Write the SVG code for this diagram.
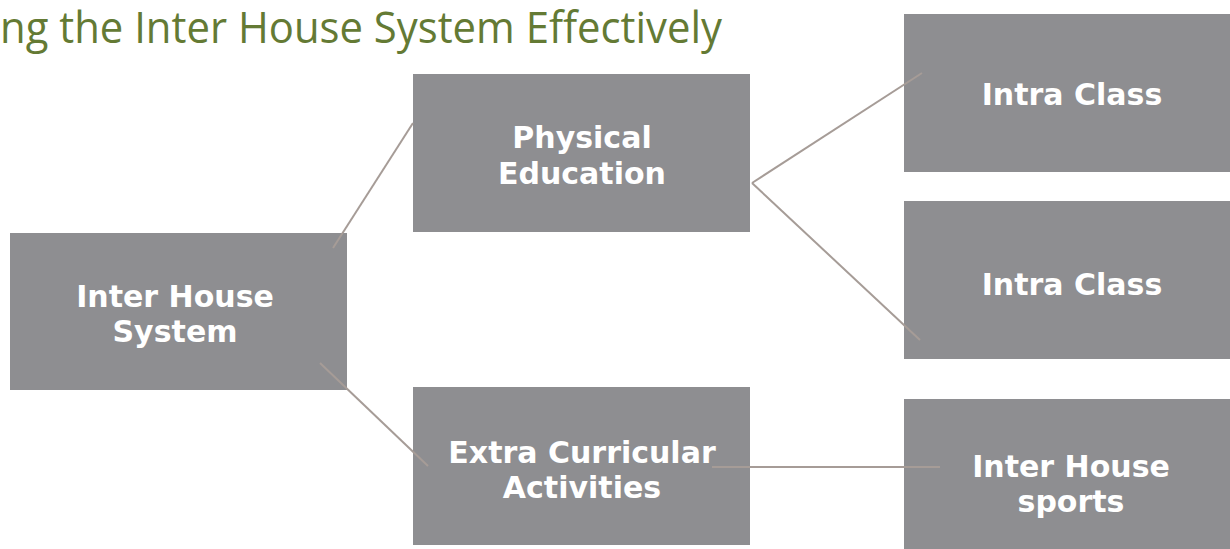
<svg xmlns="http://www.w3.org/2000/svg" width="1230" height="549" viewBox="0 0 1230 549">
<style>
.box{fill:#8e8e91}
.lbl{font-family:"DejaVu Sans",sans-serif;font-weight:bold;font-size:30px;fill:#ffffff;text-anchor:middle}
.con{stroke:#a69c97;stroke-width:2;fill:none}
.title{font-family:"Open Sans","Noto Sans",sans-serif;font-size:43px;font-weight:500;fill:#647a34}
</style>
<rect width="1230" height="549" fill="#ffffff"/>
<text class="title" x="0" y="43" textLength="722" lengthAdjust="spacingAndGlyphs">ng the Inter House System Effectively</text>
<g id="n-ihs"><rect class="box" x="10" y="233" width="337" height="157"/><text class="lbl" x="175" y="307">Inter House</text><text class="lbl" x="175" y="342">System</text></g>
<g id="n-pe"><rect class="box" x="413" y="74" width="337" height="158"/><text class="lbl" x="582" y="148">Physical</text><text class="lbl" x="582" y="184">Education</text></g>
<g id="n-ic1"><rect class="box" x="904" y="14" width="326" height="158"/><text class="lbl" x="1072" y="105">Intra Class</text></g>
<g id="n-ic2"><rect class="box" x="904" y="201" width="326" height="158"/><text class="lbl" x="1072" y="295">Intra Class</text></g>
<g id="n-eca"><rect class="box" x="413" y="387" width="337" height="158"/><text class="lbl" x="582" y="463">Extra Curricular</text><text class="lbl" x="582" y="498">Activities</text></g>
<g id="n-ihsp"><rect class="box" x="904" y="399" width="326" height="150"/><text class="lbl" x="1071" y="477">Inter House</text><text class="lbl" x="1071" y="512">sports</text></g>
<g id="connectors">
<line class="con" x1="333" y1="248" x2="413" y2="123"/>
<line class="con" x1="320" y1="363" x2="428" y2="466"/>
<line class="con" x1="752" y1="183" x2="922" y2="73"/>
<line class="con" x1="752" y1="183" x2="920" y2="340"/>
<line class="con" x1="712" y1="467" x2="940" y2="467"/>
</g>
</svg>
